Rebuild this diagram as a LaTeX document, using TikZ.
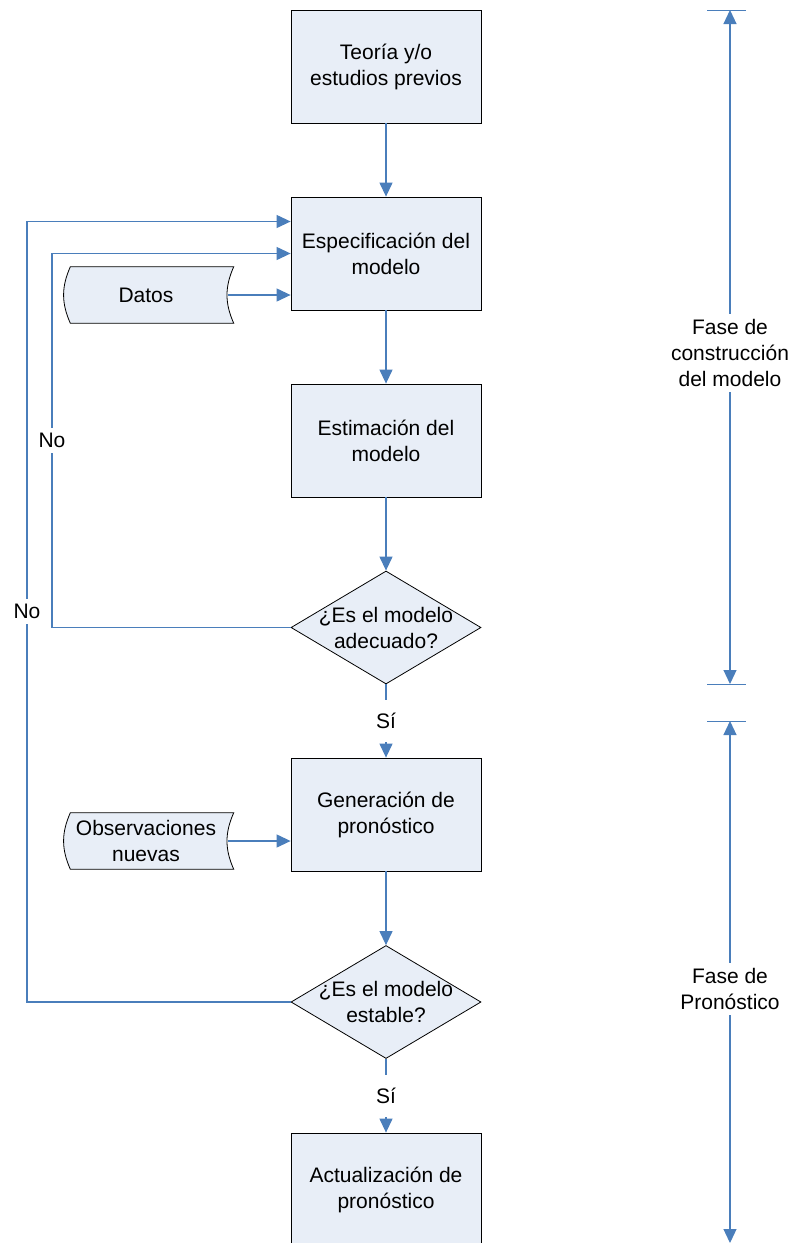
\documentclass[tikz,border=0pt]{standalone}
\usepackage{fontspec}
\setmainfont{Liberation Sans}
\usetikzlibrary{shapes.geometric, arrows.meta, backgrounds}

\definecolor{cajafondo}{HTML}{E8EEF7}
\definecolor{lineaazul}{HTML}{4A7EBB}

\tikzset{
    caja/.style={draw=black, line width=0.8pt, fill=cajafondo, minimum width=190pt, minimum height=113pt, inner sep=0pt, align=center},
    rombo/.style={draw=black, line width=0.8pt, fill=cajafondo, diamond, minimum width=190pt, minimum height=113pt, inner sep=0pt},
    datosbox/.style={minimum width=163pt, minimum height=56pt, inner sep=0pt, align=center},
    linea/.style={draw=lineaazul, line width=1.2pt},
    flecha/.style={linea, -{Triangle[length=14pt, width=13pt]}},
    doble/.style={linea, {Triangle[length=14pt, width=13pt]}-{Triangle[length=14pt, width=13pt]}},
    etiqueta/.style={fill=white, inner sep=5pt, align=center},
}

\newcommand{\almacen}[1]{%
    \begin{scope}[on background layer]
        \draw[black, line width=0.8pt, fill=cajafondo]
            ([xshift=6pt]#1.north west) -- ([xshift=6pt]#1.north east)
            to[bend right=24] ([xshift=6pt]#1.south east)
            -- ([xshift=6pt]#1.south west)
            to[bend left=24] cycle;
    \end{scope}}

\begin{document}
\begin{tikzpicture}[x=1pt, y=-1pt, font=\fontsize{21}{26}\selectfont]
    \clip (0,0) rectangle (794,1243);

    \node[caja] (teoria) at (386,66.5) {Teoría y/o\\estudios previos};
    \node[caja] (espec) at (386,253.5) {Especificación del\\modelo};
    \node[caja] (estim) at (386,440.5) {Estimación del\\modelo};
    \node[rombo, label={[align=center]center:¿Es el modelo\\adecuado?}] (adecuado) at (386,627.5) {};
    \node[caja] (gener) at (386,814.5) {Generación de\\pronóstico};
    \node[rombo, label={[align=center]center:¿Es el modelo\\estable?}] (estable) at (386,1002) {};
    \node[caja] (actual) at (386,1189.5) {Actualización de\\pronóstico};

    \node[datosbox] (datos) at (146,295) {Datos};
    \node[datosbox] (obs) at (146,841) {Observaciones\\nuevas};
    \almacen{datos}
    \almacen{obs}

    \foreach \a/\b in {teoria/espec, espec/estim, estim/adecuado, gener/estable}
        \draw[flecha] (\a) -- (\b);
    \draw[flecha] (adecuado) -- node[etiqueta, inner ysep=13pt] (si1) {Sí} (gener);
    \draw[flecha] (estable) -- node[etiqueta, inner ysep=13pt] (si2) {Sí} (actual);
    \draw[flecha] (datos.east) -- (datos.east -| espec.west);
    \draw[flecha] (obs.east) -- (obs.east -| gener.west);

    \coordinate (vuelta1) at (52,627.5);
    \coordinate (vuelta2) at (27,1002);
    \coordinate (entrada) at ([yshift=32pt]espec.west);
    \draw[flecha] (adecuado.west) -- (vuelta1) -- node[etiqueta] (no1) {No} (vuelta1 |- espec.west) -- (espec.west);
    \draw[flecha] (estable.west) -- (vuelta2) -- node[etiqueta] (no2) {No} (vuelta2 |- entrada) -- (entrada);

    \coordinate (f1a) at (730,10);
    \coordinate (f1b) at (730,684);
    \coordinate (f2a) at (730,721);
    \coordinate (f2b) at (730,1243);
    \foreach \c in {f1a, f1b, f2a}
        \draw[linea, line width=1pt] ([xshift=-23pt]\c) -- ([xshift=16pt]\c);
    \draw[doble] (f1a) -- node[etiqueta, pos=0.509] (fase1) {Fase de\\construcción\\del modelo} (f1b);
    \draw[doble] (f2a) -- node[etiqueta, pos=0.513] (fase2) {Fase de\\Pronóstico} (f2b);
\end{tikzpicture}
\end{document}
